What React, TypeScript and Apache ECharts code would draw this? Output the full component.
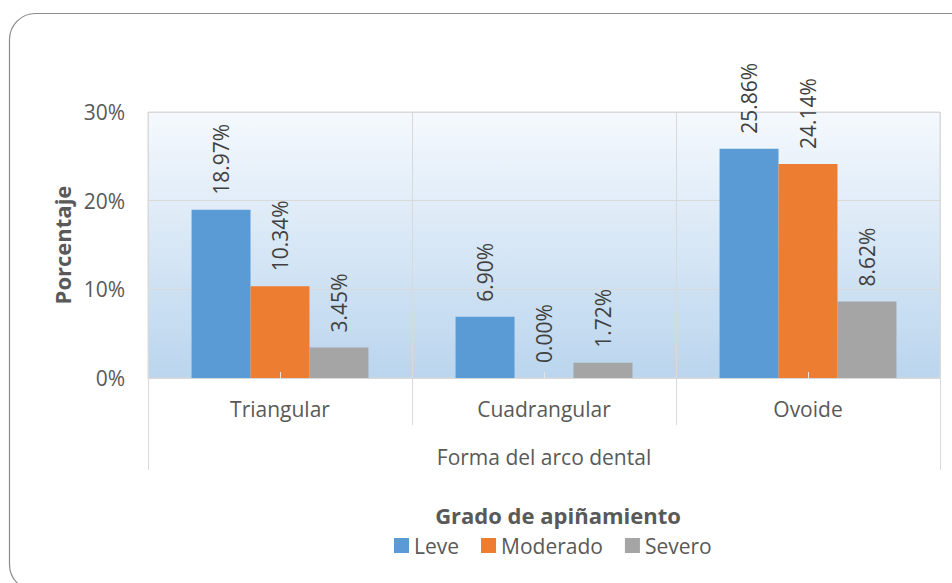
import React, { useEffect, useRef } from 'react';
import * as echarts from 'echarts';

const categories = ['Triangular', 'Cuadrangular', 'Ovoide'];
const seriesNames = ['Leve', 'Moderado', 'Severo'];
const leve = [18.97, 6.9, 25.86];
const moderado = [10.34, 0.0, 24.14];
const severo = [3.45, 1.72, 8.62];
const yTicks = [0, 10, 20, 30];
const colors = ['#5B9BD5', '#ED7D31', '#A5A5A5'];
const xAxisTitle = 'Forma del arco dental';
const yAxisTitle = 'Porcentaje';
const legendTitle = 'Grado de apiñamiento';

const FONT = '"Open Sans", Lato, sans-serif';

export default function App() {
  const ref = useRef<HTMLDivElement>(null);
  useEffect(() => {
    if (!ref.current) return;
    const chart = echarts.init(ref.current, undefined, { renderer: 'svg' });
    const values = [leve, moderado, severo];
    const option: any = {
      animation: false,
      backgroundColor: '#ffffff',
      color: colors,
      grid: {
        left: 148,
        right: 12,
        top: 112,
        bottom: 205,
        show: true,
        borderColor: '#d9d9d9',
        borderWidth: 1,
        backgroundColor: new echarts.graphic.LinearGradient(0, 0, 0, 1, [
          { offset: 0, color: '#f5f9fd' },
          { offset: 1, color: '#bad5ee' },
        ]),
      },
      xAxis: [
        {
          type: 'category',
          data: categories,
          axisLine: { show: true, lineStyle: { color: '#d9d9d9', width: 1 } },
          axisTick: { show: true, length: 47, lineStyle: { color: '#d9d9d9', width: 1 } },
          splitLine: { show: true, lineStyle: { color: '#d9d9d9', width: 1 } },
          axisLabel: { margin: 20, fontSize: 21, color: '#595959', fontFamily: FONT },
          name: xAxisTitle,
          nameLocation: 'middle',
          nameGap: 68,
          nameTextStyle: { fontSize: 21, color: '#595959', fontFamily: FONT },
        },
        {
          type: 'value',
          min: 0,
          max: 1,
          interval: 1,
          position: 'bottom',
          axisLine: { show: false },
          axisTick: { show: true, length: 92, lineStyle: { color: '#d9d9d9', width: 1 } },
          axisLabel: { show: false },
          splitLine: { show: false },
        },
        {
          type: 'category',
          data: categories,
          position: 'bottom',
          z: 5,
          axisLine: { show: false },
          axisTick: { show: true, inside: true, alignWithLabel: true, length: 6, lineStyle: { color: '#e4e4e4', width: 1 } },
          axisLabel: { show: false },
          splitLine: { show: false },
        },
      ],
      yAxis: {
        type: 'value',
        min: yTicks[0],
        max: yTicks[yTicks.length - 1],
        interval: yTicks[1] - yTicks[0],
        axisLine: { show: false },
        axisTick: { show: false },
        splitLine: { show: true, lineStyle: { color: '#d9d9d9', width: 1 } },
        axisLabel: { formatter: '{value}%', margin: 23, fontSize: 21, color: '#595959', fontFamily: FONT },
        name: yAxisTitle,
        nameLocation: 'middle',
        nameGap: 75,
        nameRotate: 90,
        nameTextStyle: { fontSize: 22, fontWeight: 'bold', color: '#595959', fontFamily: FONT },
      },
      legend: {
        data: seriesNames,
        top: 530,
        left: 389,
        icon: 'rect',
        itemWidth: 15,
        itemHeight: 15,
        itemGap: 22,
        textStyle: { fontSize: 21, color: '#595959', fontFamily: FONT },
      },
      graphic: [
        {
          type: 'text',
          x: 558,
          y: 515,
          style: {
            text: legendTitle,
            textAlign: 'center',
            textVerticalAlign: 'middle',
            font: 'bold 22px ' + FONT,
            fill: '#595959',
          },
        },
        {
          type: 'rect',
          silent: true,
          shape: { x: 9.5, y: 13.5, width: 1000, height: 577, r: 26 },
          style: { fill: 'none', stroke: '#8c8c8c', lineWidth: 1.2 },
        },
      ],
      series: seriesNames.map((name, i) => ({
        name,
        type: 'bar',
        data: values[i],
        barGap: '0%',
        barCategoryGap: '33%',
        itemStyle: { color: colors[i] },
        label: {
          show: true,
          position: 'top',
          rotate: 90,
          align: 'left',
          verticalAlign: 'middle',
          distance: 15,
          formatter: (p: any) => Number(p.value).toFixed(2) + '%',
          fontSize: 21,
          color: '#404040',
          fontFamily: FONT,
        },
      })),
    };
    chart.setOption(option);
    return () => chart.dispose();
  }, []);
  return (
    <div
      ref={ref}
      style={{ position: 'fixed', left: 0, top: 0, width: 952, height: 583, background: '#fff' }}
    />
  );
}
